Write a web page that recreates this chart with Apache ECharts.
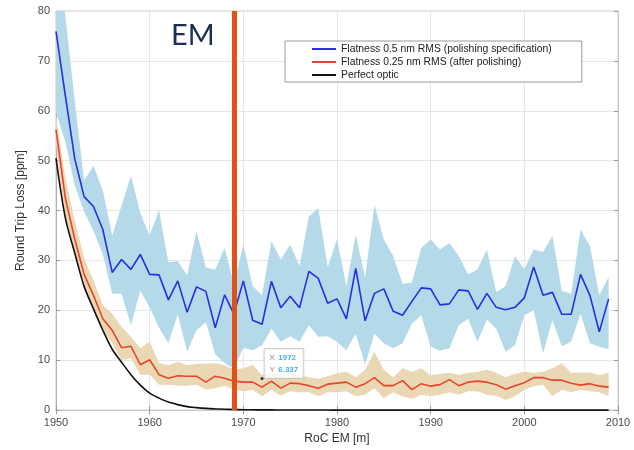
<!DOCTYPE html>
<html>
<head>
<meta charset="utf-8">
<script src="https://cdn.jsdelivr.net/npm/echarts@6/dist/echarts.min.js"></script>
<style>
html,body{margin:0;padding:0;background:#fff;}
#chart{width:634px;height:450px;}
</style>
</head>
<body>
<div id="chart"></div>
<script>

// =====================================================
// DONNEES
// =====================================================

const years = [
1950,1951,1952,1953,1954,1955,1956,1957,1958,1959,
1960,1961,1962,1963,1964,1965,1966,1967,1968,1969,
1970,1971,1972,1973,1974,1975,1976,1977,1978,1979,
1980,1981,1982,1983,1984,1985,1986,1987,1988,1989,
1990,1991,1992,1993,1994,1995,1996,1997,1998,1999,
2000,2001,2002,2003,2004,2005,2006,2007,2008,2009
];

const xTicks = [1950,1960,1970,1980,1990,2000,2010];
const yTicks = [0,10,20,30,40,50,60,70,80];

// Flatness 0.5 nm RMS
const blueMean = [
75.9,63.0,50.4,42.8,40.8,36.2,27.6,30.2,28.2,31.2,
27.2,27.1,22.1,25.9,19.6,24.7,23.8,16.5,23.1,19.3,
25.9,18.0,17.2,25.8,20.5,22.8,20.5,27.8,26.4,21.4,
22.3,18.3,28.4,17.9,23.4,24.3,19.8,19.0,21.8,24.5,
24.3,21.1,21.3,24.1,23.9,20.2,23.4,20.6,20.1,20.6,
22.5,28.7,23.0,23.6,19.2,19.2,27.2,23.0,15.7,22.3
];

const blueUpper = [
98.0,79.0,62.0,46.0,49.0,44.0,35.0,41.0,47.0,39.5,
35.0,40.1,29.6,29.9,27.0,35.9,28.6,28.2,32.5,25.3,
33.2,24.9,23.0,33.9,30.2,33.2,28.9,38.8,40.5,28.6,
34.3,24.9,35.2,26.6,41.1,34.2,30.9,25.3,25.6,32.5,
34.2,32.2,33.5,30.9,27.2,28.2,32.2,23.6,24.9,30.9,
28.3,32.2,31.7,34.9,23.9,23.3,36.2,32.9,23.0,26.7
];

const blueLower = [
59.7,53.7,45.0,39.8,35.9,31.2,23.3,23.3,17.0,23.9,
20.6,16.5,13.4,19.2,11.7,16.0,17.6,11.2,9.4,8.4,
12.5,12.0,13.0,16.3,13.7,14.8,13.7,17.0,14.7,14.8,
13.7,12.0,15.3,9.1,15.3,13.4,12.4,13.4,17.3,19.0,
12.7,11.9,12.4,17.0,18.3,13.7,18.2,16.3,11.7,13.0,
19.0,20.0,11.4,18.0,12.8,13.7,19.3,13.4,12.7,12.2
];

// Flatness 0.25 nm RMS
const redMean = [
56.2,42.5,34.3,27.2,23.0,18.3,16.0,12.5,12.8,9.1,
10.1,7.1,6.4,6.9,6.8,6.8,5.6,6.8,6.4,5.8,
5.6,5.6,4.6,5.8,4.4,5.4,5.3,4.9,4.4,5.2,
5.4,5.6,4.6,5.3,6.5,4.9,4.9,5.9,4.1,5.3,
4.8,5.1,6.1,4.9,5.6,5.8,5.6,5.1,4.2,4.9,
5.5,6.5,6.5,6.0,6.0,5.4,5.0,5.3,4.8,4.6
];

const redUpper = [
59.0,46.5,38.0,30.5,26.0,21.0,19.3,16.7,14.7,12.4,
13.7,9.4,9.0,9.7,9.0,9.3,9.3,9.4,9.0,8.1,
8.4,9.1,7.0,7.5,7.1,7.2,7.0,6.6,6.3,6.8,
7.4,7.7,6.6,8.1,11.7,8.1,6.6,8.4,7.7,8.4,
7.0,7.3,7.5,7.1,7.5,7.7,8.1,7.5,6.6,7.3,
7.7,7.5,7.7,8.4,9.4,7.5,7.5,7.6,7.0,7.5
];

const redLower = [
53.0,39.0,31.0,24.5,20.5,16.0,13.4,10.0,10.4,7.1,
7.1,5.1,5.1,4.9,4.9,5.1,4.1,4.4,4.9,4.1,
3.8,4.1,2.8,4.1,2.9,3.8,3.6,3.6,2.8,3.6,
3.6,3.8,2.8,3.1,4.4,2.4,3.6,2.8,2.2,3.1,
2.8,3.1,3.6,3.1,3.8,3.8,3.1,2.9,2.0,2.8,
4.1,4.8,5.1,2.8,4.1,3.6,4.1,3.8,3.6,2.8
];

// Perfect optic
const blackLine = [
50.5,38.5,31.5,24.8,20.3,16.0,12.2,9.6,7.1,5.0,
3.4,2.4,1.6,1.1,0.7,0.5,0.35,0.25,0.18,0.12,
0.08,0.06,0.05,0.04,0.03,0.02,0.02,0.01,0.01,0.01,
0,0,0,0,0,0,0,0,0,0,
0,0,0,0,0,0,0,0,0,0,
0,0,0,0,0,0,0,0,0,0
];

const emPosition = 1969;
const dataTip = [1972, 6.337];

const legendNames = [
"Flatness 0.5 nm RMS (polishing specification)",
"Flatness 0.25 nm RMS (after polishing)",
"Perfect optic"
];


// =====================================================
// HELPERS
// =====================================================

function pairs(values){
    return years.map((y,i)=>[y, values[i]]);
}

// bande = un seul polygone (bord haut puis bord bas à l'envers)
function band(name, lower, upper, color){

    const rows = years.map((y,i)=>[y, lower[i], upper[i]]);

    return {
        name:name,
        type:"custom",
        silent:true,
        clip:true,
        z:1,
        data:rows,
        renderItem:(params, api)=>{

            if(params.dataIndex!==0) return;

            const top = rows.map(r=>api.coord([r[0], r[2]]));
            const bottom = rows.map(r=>api.coord([r[0], r[1]])).reverse();

            return {
                type:"polygon",
                shape:{points:top.concat(bottom)},
                style:{fill:color, stroke:null}
            };
        }
    };
}


// =====================================================
// CHART
// =====================================================

const chart = echarts.init(document.getElementById("chart"));

const axisText = {
    color:"#4a4a4a",
    fontSize:11,
    fontFamily:"Liberation Sans, Arial, sans-serif"
};

chart.setOption({

    animation:false,

    textStyle:{fontFamily:"Liberation Sans, Arial, sans-serif"},

    title:{
        text:"EM",
        left:166,
        top:16,
        textStyle:{
            fontSize:29,
            fontWeight:"normal",
            color:"#1c2f52",
            fontFamily:"Lato, Open Sans, sans-serif"
        }
    },

    legend:{
        data:legendNames,
        orient:"vertical",
        left:285,
        top:41,
        padding:[2,30,1,27],
        itemGap:1,
        itemWidth:24,
        itemHeight:2,
        icon:"rect",
        borderColor:"#9a9a9a",
        borderWidth:1,
        backgroundColor:"#fff",
        selectedMode:false,
        textStyle:{
            fontSize:10.4,
            lineHeight:12,
            color:"#222",
            fontFamily:"Liberation Sans, Arial, sans-serif"
        }
    },

    grid:{
        left:56,
        right:16,
        top:11,
        bottom:36,
        show:true,
        borderColor:"#c8c8c8",
        borderWidth:1
    },

    xAxis:[{
        type:"value",
        min:xTicks[0],
        max:xTicks[xTicks.length-1],
        interval:10,
        name:"RoC EM [m]",
        nameLocation:"middle",
        nameGap:22,
        nameTextStyle:{fontSize:12, color:"#333"},
        axisLine:{lineStyle:{color:"#b0b0b0"}},
        axisTick:{inside:true, length:4, lineStyle:{color:"#999"}},
        axisLabel:Object.assign({margin:7, formatter:v=>String(v)}, axisText),
        splitLine:{lineStyle:{color:"#e6e6e6"}}
    },{
        type:"value",
        position:"top",
        min:xTicks[0],
        max:xTicks[xTicks.length-1],
        interval:10,
        axisLine:{lineStyle:{color:"#c8c8c8"}},
        axisTick:{inside:true, length:4, lineStyle:{color:"#999"}},
        axisLabel:{show:false},
        splitLine:{show:false}
    }],

    yAxis:[{
        type:"value",
        min:yTicks[0],
        max:yTicks[yTicks.length-1],
        interval:10,
        name:"Round Trip Loss [ppm]",
        nameLocation:"middle",
        nameGap:23,
        nameTextStyle:{fontSize:12, color:"#333"},
        axisLine:{show:true, lineStyle:{color:"#b0b0b0"}},
        axisTick:{show:true, inside:true, length:4, lineStyle:{color:"#999"}},
        axisLabel:Object.assign({margin:6}, axisText),
        splitLine:{lineStyle:{color:"#e6e6e6"}}
    },{
        type:"value",
        position:"right",
        min:yTicks[0],
        max:yTicks[yTicks.length-1],
        interval:10,
        axisLine:{show:true, lineStyle:{color:"#c8c8c8"}},
        axisTick:{show:true, inside:true, length:4, lineStyle:{color:"#999"}},
        axisLabel:{show:false},
        splitLine:{show:false}
    }],

    series:[

        // bandes
        band("blueBand", blueLower, blueUpper, "#b4d9e9"),
        band("redBand", redLower, redUpper, "#ead8b5"),

        // courbes
        {
            name:legendNames[0],
            type:"line",
            data:pairs(blueMean),
            symbol:"none",
            color:"#2a2edc",
            lineStyle:{width:1.6},
            z:3
        },
        {
            name:legendNames[1],
            type:"line",
            data:pairs(redMean),
            symbol:"none",
            color:"#e8452c",
            lineStyle:{width:1.6},
            z:3
        },
        {
            name:legendNames[2],
            type:"line",
            data:pairs(blackLine),
            symbol:"none",
            smooth:0.3,
            color:"#111",
            lineStyle:{width:1.6},
            z:3
        },

        // EM + datatip
        {
            name:"datatip",
            type:"scatter",
            data:[dataTip],
            symbolSize:3,
            itemStyle:{color:"#000"},
            silent:true,
            z:6,
            label:{
                show:true,
                position:[4,-28],
                formatter:"{a|X} {b|"+dataTip[0]+"}\n{a|Y} {b|"+dataTip[1]+"}",
                backgroundColor:"#fff",
                borderColor:"#c0c0c0",
                borderWidth:1,
                padding:[3,5,2,5],
                rich:{
                    a:{color:"#666", fontSize:8, lineHeight:11},
                    b:{color:"#1e96f0", fontSize:8, fontWeight:"bold", lineHeight:11}
                }
            },
            markLine:{
                silent:true,
                symbol:"none",
                label:{show:false},
                lineStyle:{color:"#e2501a", width:5, type:"solid"},
                data:[{xAxis:emPosition}]
            }
        }
    ]
});

</script>
</body>
</html>
